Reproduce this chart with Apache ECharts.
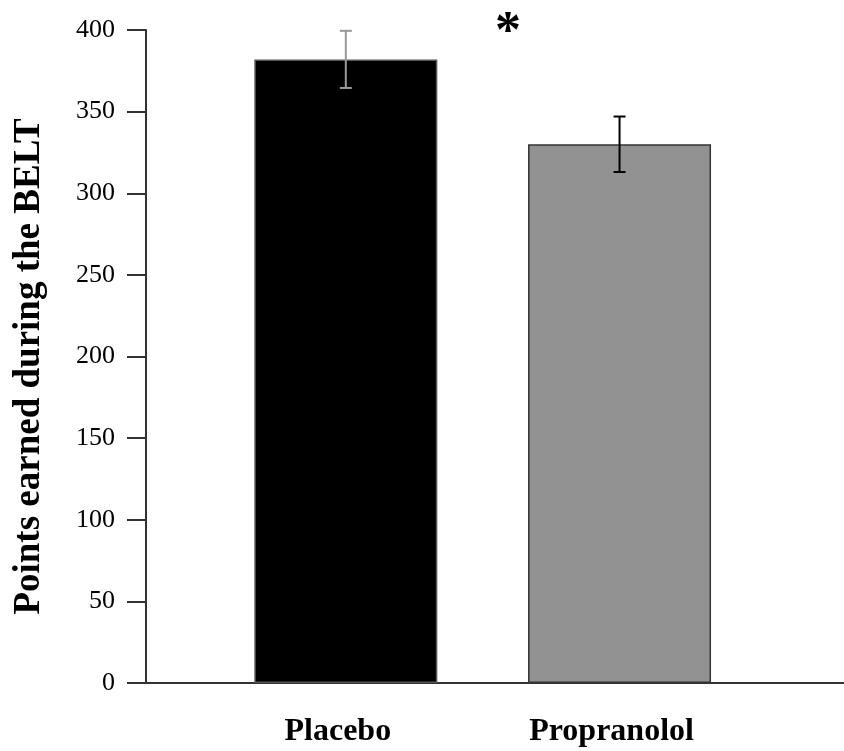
<!DOCTYPE html>
<html>
<head>
<meta charset="utf-8">
<script src="https://cdn.jsdelivr.net/npm/echarts@6/dist/echarts.min.js"></script>
<style>
html,body{margin:0;padding:0;background:#fff;}
#c{width:844px;height:751px;}
</style>
</head>
<body>
<div id="c"></div>
<script>
var categories = ['Placebo', 'Propranolol'];
var means = [382, 330];
var errors = [17.5, 17];
var yTicks = [0, 50, 100, 150, 200, 250, 300, 350, 400];
var barColors = ['#000000', '#929292'];
var errColors = ['#999999', '#000000'];
var positions = [1, 2];

var chart = echarts.init(document.getElementById('c'));
var F = 'Liberation Serif, Times New Roman, serif';

var barData = means.map(function (m, i) {
  return {
    value: [positions[i], m],
    itemStyle: { color: barColors[i], borderColor: i === 0 ? '#555' : '#333', borderWidth: 1.5 }
  };
});
var errData = means.map(function (m, i) {
  return [positions[i], m - errors[i], m + errors[i], i];
});

chart.setOption({
  animation: false,
  grid: { left: 146, right: 0, top: 30, bottom: 68, containLabel: false },
  xAxis: {
    type: 'value',
    min: 0.27,
    max: 2.82,
    splitLine: { show: false },
    axisLine: { show: true, onZero: false, lineStyle: { color: '#333', width: 2 } },
    axisTick: { show: false },
    axisLabel: {
      customValues: positions,
      formatter: function (v) {
        var i = positions.indexOf(v);
        return i >= 0 ? categories[i] : '';
      },
      fontFamily: F, fontWeight: 'bold', fontSize: 32, color: '#000', margin: 33,
      padding: [0, 16, 0, 0]
    }
  },
  yAxis: {
    type: 'value',
    min: 0, max: 400, interval: 50,
    name: 'Points earned during the BELT',
    nameLocation: 'middle',
    nameGap: 98,
    nameTextStyle: { fontFamily: F, fontWeight: 'bold', fontSize: 37, color: '#000', padding: [0, 20, 0, 0] },
    splitLine: { show: false },
    axisLine: { show: true, lineStyle: { color: '#333', width: 2 } },
    axisTick: { show: true, inside: false, length: 19, lineStyle: { color: '#333', width: 2 } },
    axisLabel: {
      fontFamily: F, fontSize: 26, color: '#000', margin: 31,
      formatter: function (v) { return yTicks.indexOf(v) >= 0 ? String(v) : ''; }
    }
  },
  series: [
    {
      type: 'bar',
      barWidth: 183,
      data: barData
    },
    {
      type: 'custom',
      data: errData,
      renderItem: function (params, api) {
        var x = api.value(0);
        var lo = api.coord([x, api.value(1)]);
        var hi = api.coord([x, api.value(2)]);
        var col = errColors[api.value(3)];
        var hw = 6;
        var st = { stroke: col, lineWidth: 2 };
        return {
          type: 'group',
          children: [
            { type: 'line', shape: { x1: lo[0], y1: lo[1], x2: hi[0], y2: hi[1] }, style: st },
            { type: 'line', shape: { x1: lo[0] - hw, y1: lo[1], x2: lo[0] + hw, y2: lo[1] }, style: st },
            { type: 'line', shape: { x1: hi[0] - hw, y1: hi[1], x2: hi[0] + hw, y2: hi[1] }, style: st }
          ]
        };
      },
      z: 5
    }
  ],
  graphic: [
    {
      type: 'text',
      left: 495,
      top: 8,
      style: { text: '*', fontFamily: F, fontWeight: 'bold', fontSize: 52, fill: '#000' }
    }
  ]
});
</script>
</body>
</html>
